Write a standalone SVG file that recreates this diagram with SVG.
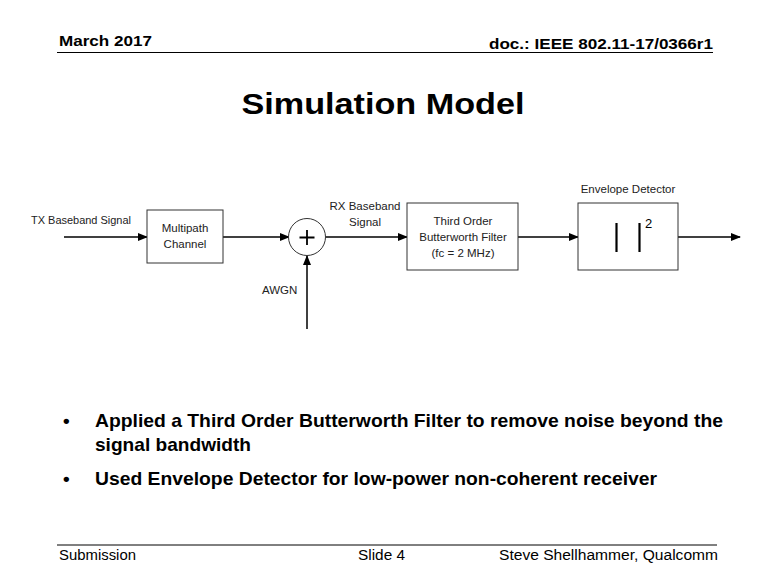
<svg xmlns="http://www.w3.org/2000/svg" width="768" height="576" viewBox="0 0 768 576">
<style>
text{font-family:"Liberation Sans",Arial,sans-serif;fill:#000}
.hdr{font-size:15px;font-weight:bold}
.lbl{font-size:11.5px;fill:#222}
.box{fill:#fff;stroke:#333;stroke-width:1}
.ln{stroke:#000;stroke-width:1.5;fill:none}
.bul{font-size:19px;font-weight:bold}
.ftr{font-size:14px}
</style>
<defs>
<marker id="ah" markerWidth="10" markerHeight="8" refX="9" refY="4" orient="auto" markerUnits="userSpaceOnUse">
<path d="M0,0 L10,4 L0,8 z" fill="#000"/>
</marker>
</defs>
<rect width="768" height="576" fill="#fff"/>
<g id="header">
<text class="hdr" x="59" y="46" textLength="93" lengthAdjust="spacingAndGlyphs">March 2017</text>
<text class="hdr" x="489" y="49" textLength="224" lengthAdjust="spacingAndGlyphs">doc.: IEEE 802.11-17/0366r1</text>
<line x1="57" y1="52.5" x2="713" y2="52.5" stroke="#000" stroke-width="1"/>
</g>
<g id="title">
<text x="383" y="114" text-anchor="middle" font-size="30" font-weight="bold" textLength="283" lengthAdjust="spacingAndGlyphs">Simulation Model</text>
</g>
<g id="connectors">
<line class="ln" x1="64" y1="237" x2="147" y2="237" marker-end="url(#ah)"/>
<line class="ln" x1="223" y1="237" x2="289" y2="237" marker-end="url(#ah)"/>
<line class="ln" x1="307" y1="329" x2="307" y2="256" marker-end="url(#ah)"/>
<line class="ln" x1="326" y1="237" x2="407" y2="237" marker-end="url(#ah)"/>
<line class="ln" x1="518" y1="237" x2="578" y2="237" marker-end="url(#ah)"/>
<line class="ln" x1="678" y1="237" x2="740" y2="237" marker-end="url(#ah)"/>
</g>
<g id="tx-label">
<text class="lbl" x="31" y="224" textLength="100" lengthAdjust="spacingAndGlyphs">TX Baseband Signal</text>
</g>
<g id="multipath">
<rect class="box" x="147" y="210" width="76" height="53"/>
<text class="lbl" x="185" y="232" text-anchor="middle">Multipath</text>
<text class="lbl" x="185" y="248" text-anchor="middle">Channel</text>
</g>
<g id="adder">
<circle cx="307" cy="237" r="18.5" fill="#fff" stroke="#333" stroke-width="1"/>
<path d="M307,230 V245 M299.5,237.5 H314.5" stroke="#000" stroke-width="1.8"/>
</g>
<g id="awgn">
<text class="lbl" x="262" y="294">AWGN</text>
</g>
<g id="rx-label">
<text class="lbl" x="365" y="210" text-anchor="middle">RX Baseband</text>
<text class="lbl" x="365" y="226" text-anchor="middle">Signal</text>
</g>
<g id="filter">
<rect class="box" x="407" y="203" width="111" height="67"/>
<text class="lbl" x="463" y="225" text-anchor="middle">Third Order</text>
<text class="lbl" x="463" y="241" text-anchor="middle">Butterworth Filter</text>
<text class="lbl" x="463" y="257" text-anchor="middle">(fc = 2 MHz)</text>
</g>
<g id="envelope">
<text class="lbl" x="628" y="193" text-anchor="middle">Envelope Detector</text>
<rect class="box" x="578" y="203" width="100" height="67"/>
<line x1="616.5" y1="223" x2="616.5" y2="252" stroke="#000" stroke-width="2.2"/>
<line x1="639.5" y1="223" x2="639.5" y2="252" stroke="#000" stroke-width="2.2"/>
<text x="645" y="228" font-size="13" fill="#222">2</text>
</g>
<g id="bullets">
<text class="bul" x="63" y="427">•</text>
<text class="bul" x="95" y="427" textLength="628" lengthAdjust="spacingAndGlyphs">Applied a Third Order Butterworth Filter to remove noise beyond the</text>
<text class="bul" x="95" y="451" textLength="156" lengthAdjust="spacingAndGlyphs">signal bandwidth</text>
<text class="bul" x="63" y="485">•</text>
<text class="bul" x="95" y="485" textLength="562" lengthAdjust="spacingAndGlyphs">Used Envelope Detector for low-power non-coherent receiver</text>
</g>
<g id="footer">
<line x1="57" y1="545" x2="717" y2="545" stroke="#000" stroke-width="1"/>
<text class="ftr" x="59" y="560" textLength="77" lengthAdjust="spacingAndGlyphs">Submission</text>
<text class="ftr" x="358" y="560" textLength="47" lengthAdjust="spacingAndGlyphs">Slide 4</text>
<text class="ftr" x="499" y="560" textLength="219" lengthAdjust="spacingAndGlyphs">Steve Shellhammer, Qualcomm</text>
</g>
</svg>
